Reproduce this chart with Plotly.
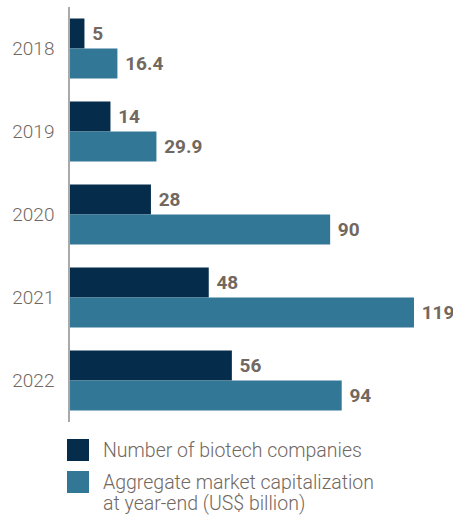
import plotly.graph_objects as go

years = ["2018", "2019", "2020", "2021", "2022"]
companies = [5, 14, 28, 48, 56]
market_cap = [16.4, 29.9, 90, 119, 94]
cap_labels = ["16.4", "29.9", "90", "119", "94"]
series_names = ["Number of biotech companies",
                ["Aggregate market capitalization", "at year-end (US$ billion)"]]

DARK = "#052d4b"
TEAL = "#327795"
TXT = "#72685f"
FONT = "Roboto"
PAD = "\u00a0"

W, H = 453, 515
ML, MR, MT, MB = 70, 0, 7, 93
PW, PH = W - ML - MR, H - MT - MB

def px_x(x):
    return (x - ML) / PW

def px_y(y):
    return (H - MB - y) / PH

fig = go.Figure()
fig.add_trace(go.Bar(
    y=years, x=companies, orientation="h", marker=dict(color=DARK, line_width=0),
    text=[PAD + str(v) for v in companies], textposition="outside",
    textfont=dict(family=FONT, size=19, color=TXT, weight="bold"),
    cliponaxis=False, name=series_names[0], showlegend=False,
))
fig.add_trace(go.Bar(
    y=years, x=market_cap, orientation="h", marker=dict(color=TEAL, line_width=0),
    text=[PAD + s for s in cap_labels], textposition="outside",
    textfont=dict(family=FONT, size=19, color=TXT, weight="bold"),
    cliponaxis=False, name=" ".join(series_names[1]), showlegend=False,
))

shapes = [
    dict(type="rect", xref="paper", yref="paper", x0=px_x(67), x1=px_x(89),
         y0=px_y(461), y1=px_y(439), fillcolor=DARK, line_width=0),
    dict(type="rect", xref="paper", yref="paper", x0=px_x(67), x1=px_x(89),
         y0=px_y(493), y1=px_y(471), fillcolor=TEAL, line_width=0),
]
annotations = []
for txt, yy in [(series_names[0], 450), (series_names[1][0], 482), (series_names[1][1], 504)]:
    annotations.append(dict(text=txt, xref="paper", yref="paper", x=px_x(101), y=px_y(yy),
                            xanchor="left", yanchor="middle", showarrow=False,
                            font=dict(family=FONT, size=19.5, color=TXT, weight=300)))

fig.update_layout(
    width=W, height=H, margin=dict(l=ML, r=MR, t=MT, b=MB, autoexpand=False),
    paper_bgcolor="white", plot_bgcolor="white",
    barmode="group", bargap=0.277, bargroupgap=0,
    xaxis=dict(visible=False, range=[0, 132.5], fixedrange=True),
    yaxis=dict(autorange="reversed", showline=True, linecolor="#a9a9a9", linewidth=1.5,
               showgrid=False, ticks="", ticklabelstandoff=10, automargin=False,
               tickfont=dict(family=FONT, size=19, color=TXT, weight=300)),
    shapes=shapes, annotations=annotations, showlegend=False,
)

fig.write_html("out.html", config={"displayModeBar": False},
               post_script="document.body.style.margin='0';document.body.style.overflow='hidden';")
